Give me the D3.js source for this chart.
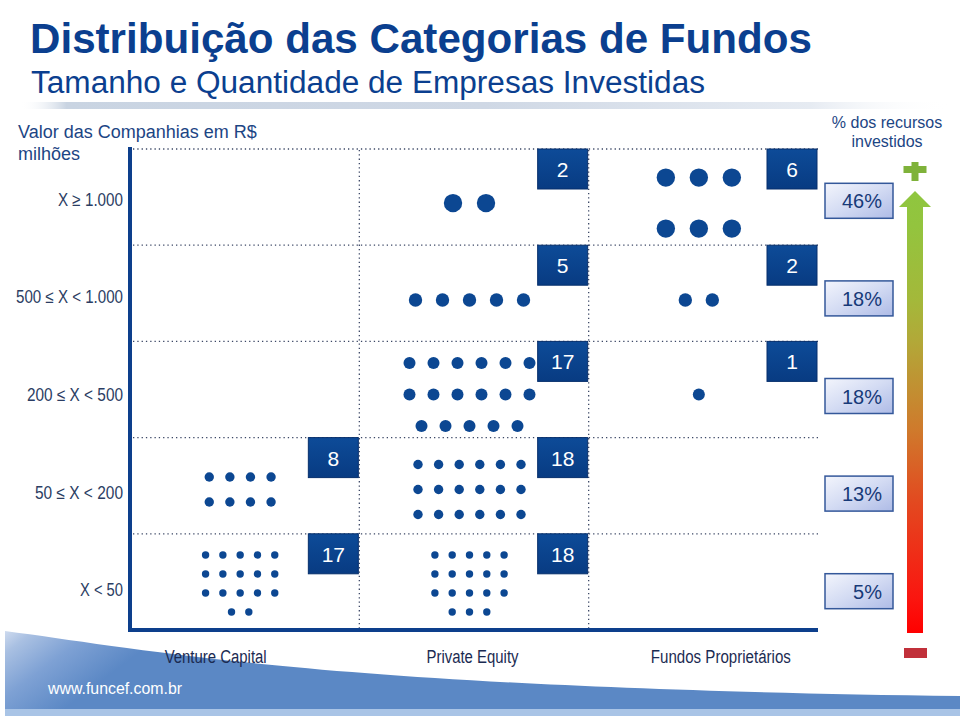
<!DOCTYPE html>
<html>
<head>
<meta charset="utf-8">
<script src="https://cdn.jsdelivr.net/npm/d3@7"></script>
<style>
  html, body { margin: 0; padding: 0; background: #fff; }
  svg { display: block; }
</style>
</head>
<body>
<script>
// ---- data ----
const categories = ["Venture Capital", "Private Equity", "Fundos Proprietários"];
const sizeBands = ["X ≥ 1.000", "500 ≤ X < 1.000", "200 ≤ X < 500", "50 ≤ X < 200", "X < 50"];
const vcCounts = [0, 0, 0, 8, 17];
const peCounts = [2, 5, 17, 18, 18];
const fpCounts = [6, 2, 1, 0, 0];
const pctInvested = [46, 18, 18, 13, 5];
const titleText = "Distribuição das Categorias de Fundos";
const subtitleText = "Tamanho e Quantidade de Empresas Investidas";
const yAxisTitle = ["Valor das Companhias em R$", "milhões"];
const pctTitle = ["% dos recursos", "investidos"];
const footerText = "www.funcef.com.br";

// ---- layout (styling, not data) ----
const dotLayout = [
  { r: 9.2, dx: 33,   dy: 51,   perRow: [3, 3, 3], yOff: 5 },
  { r: 6.7, dx: 27,   dy: 30,   perRow: [5, 5, 5], yOff: 5.7 },
  { r: 6.0, dx: 24,   dy: 31.5, perRow: [6, 6, 6], yOff: 4 },
  { r: 4.7, dx: 20.6, dy: 25,   perRow: [4, 6, 6], yOff: 2.8 },
  { r: 3.7, dx: 17.3, dy: 19,   perRow: [5, 5, 5], yOff: 0.6 }
];
// widths emulating a condensed typeface (no narrow font installed)
const rowLabelWidths = [65, 107, 96, 88, 43];
const catLabelWidths = [102, 92, 140];
const BLUE = "#0c4792";
const FRAME = "#0d3f8c";
const W = 960, H = 716;

const countsByCat = [vcCounts, peCounts, fpCounts];

const svg = d3.select("body").append("svg").attr("width", W).attr("height", H);
const defs = svg.append("defs");

// gradients
const footGrad = defs.append("linearGradient").attr("id", "footGrad")
  .attr("gradientUnits", "userSpaceOnUse").attr("x1", 0).attr("y1", 632).attr("x2", 60).attr("y2", 712);
[[0, "#d3def0"], [0.2, "#a9c0e2"], [0.55, "#7ea1d4"], [1, "#5b88c5"]]
  .forEach(([o, c]) => footGrad.append("stop").attr("offset", o).attr("stop-color", c));

const underGrad = defs.append("linearGradient").attr("id", "underGrad");
[[0, "#ffffff", 0], [0.05, "#c9d4e2", 1], [0.5, "#cfd8e5", 1], [0.85, "#e6ebf2", 1], [1, "#ffffff", 0]]
  .forEach(([o, c, a]) => underGrad.append("stop").attr("offset", o).attr("stop-color", c).attr("stop-opacity", a));

const boxGrad = defs.append("linearGradient").attr("id", "boxGrad").attr("x1", 0).attr("y1", 0).attr("x2", 0).attr("y2", 1);
[[0, "#0d4b98"], [1, "#083b82"]].forEach(([o, c]) => boxGrad.append("stop").attr("offset", o).attr("stop-color", c));

const pctGrad = defs.append("linearGradient").attr("id", "pctGrad").attr("x1", 0).attr("y1", 0).attr("x2", 1).attr("y2", 1);
[[0, "#f3f5fc"], [0.5, "#d3dbf3"], [1, "#aebbe6"]].forEach(([o, c]) => pctGrad.append("stop").attr("offset", o).attr("stop-color", c));

const arrowGrad = defs.append("linearGradient").attr("id", "arrowGrad")
  .attr("gradientUnits", "userSpaceOnUse").attr("x1", 0).attr("y1", 191).attr("x2", 0).attr("y2", 633);
[[0, "#8fc63f"], [0.08, "#93c43e"], [0.25, "#a4b83a"], [0.34, "#b2a838"], [0.54, "#cf7a2c"],
 [0.7, "#e24a20"], [0.92, "#fa1610"], [1, "#ff0000"]]
  .forEach(([o, c]) => arrowGrad.append("stop").attr("offset", o).attr("stop-color", c));

// ---- footer swoosh ----
svg.append("path")
  .attr("d", "M5,631 C 150,650 330,688 960,696 L960,716 L5,716 Z")
  .attr("fill", "url(#footGrad)");
svg.append("rect").attr("x", 5).attr("y", 709).attr("width", 955).attr("height", 7).attr("fill", "#a9c4e6");
svg.append("text").attr("x", 48).attr("y", 694).text(footerText)
  .attr("font-family", "Liberation Sans, Arial, sans-serif").attr("font-size", 16)
  .attr("fill", "#ffffff").attr("textLength", 134).attr("lengthAdjust", "spacingAndGlyphs");

// ---- titles ----
svg.append("text").attr("x", 30).attr("y", 53).text(titleText)
  .attr("font-family", "Liberation Sans, Arial, sans-serif").attr("font-weight", "bold")
  .attr("font-size", 42).attr("fill", "#0b3f8f")
  .attr("textLength", 782).attr("lengthAdjust", "spacingAndGlyphs");
svg.append("text").attr("x", 31).attr("y", 92.5).text(subtitleText)
  .attr("font-family", "Liberation Sans, Arial, sans-serif")
  .attr("font-size", 31).attr("fill", "#0b3f8f")
  .attr("textLength", 674).attr("lengthAdjust", "spacingAndGlyphs");
svg.append("rect").attr("x", 20).attr("y", 102).attr("width", 930).attr("height", 7).attr("fill", "url(#underGrad)");

// ---- scales ----
const x = d3.scaleBand().domain(categories).range([130, 818]);
const y = d3.scaleBand().domain(sizeBands).range([150, 631]);
const yLab = d3.scaleBand().domain(sizeBands).range([152, 640]);

const sans = "'Liberation Sans', Arial, sans-serif";

// y axis title
svg.selectAll("text.ytitle").data(yAxisTitle).join("text").attr("class", "ytitle")
  .attr("x", 18).attr("y", (d, i) => 138 + i * 22).text(d => d)
  .attr("font-family", sans).attr("font-size", 18).attr("fill", "#1c4584");

// row labels
svg.selectAll("text.rowlab").data(sizeBands).join("text").attr("class", "rowlab")
  .attr("x", 123).attr("y", d => yLab(d) + yLab.bandwidth() / 2 + 5)
  .attr("text-anchor", "end").text(d => d)
  .attr("textLength", (d, i) => rowLabelWidths[i]).attr("lengthAdjust", "spacingAndGlyphs")
  .attr("font-family", sans).attr("font-size", 18).attr("fill", "#2b3d63");

// ---- grid (dotted) ----
const grid = svg.append("g").attr("stroke", "#3c4866").attr("stroke-width", 1.3)
  .attr("stroke-dasharray", "1.3,3").attr("fill", "none");
sizeBands.forEach(b => {
  grid.append("line").attr("x1", 133).attr("x2", 818).attr("y1", y(b) - 1).attr("y2", y(b) - 1);
});
categories.slice(1).forEach(c => {
  grid.append("line").attr("x1", x(c)).attr("x2", x(c)).attr("y1", y.range()[0]).attr("y2", 629);
});

// ---- frame ----
svg.append("line").attr("x1", 130).attr("x2", 130).attr("y1", 147).attr("y2", 632)
  .attr("stroke", FRAME).attr("stroke-width", 4);
svg.append("line").attr("x1", 128).attr("x2", 818).attr("y1", 630).attr("y2", 630)
  .attr("stroke", FRAME).attr("stroke-width", 4);

// ---- dots and count boxes ----
const cells = [];
sizeBands.forEach((b, i) => categories.forEach((c, j) => {
  cells.push({ band: b, bi: i, cat: c, cj: j, n: countsByCat[j][i] });
}));

const dots = [];
cells.forEach(cell => {
  const L = dotLayout[cell.bi];
  const per = L.perRow[cell.cj];
  const n = cell.n;
  if (!n) return;
  const nrows = Math.ceil(n / per);
  const cx0 = x(cell.cat) + x.bandwidth() / 2 - 4.5;
  const cy0 = y(cell.band) + y.bandwidth() / 2 + L.yOff;
  for (let k = 0; k < n; k++) {
    const row = Math.floor(k / per), col = k % per;
    const inRow = Math.min(per, n - row * per);
    dots.push({
      cx: cx0 + (col - (inRow - 1) / 2) * L.dx,
      cy: cy0 + (row - (nrows - 1) / 2) * L.dy,
      r: L.r
    });
  }
});
svg.append("g").selectAll("circle").data(dots).join("circle")
  .attr("cx", d => d.cx).attr("cy", d => d.cy).attr("r", d => d.r).attr("fill", BLUE);

const boxG = svg.append("g").selectAll("g").data(cells.filter(c => c.n > 0)).join("g")
  .attr("transform", d => `translate(${x(d.cat) + x.bandwidth() - 51},${y(d.band) - 1})`);
boxG.append("rect").attr("width", 50).attr("height", 40)
  .attr("fill", "url(#boxGrad)").attr("stroke", "#062f6c").attr("stroke-width", 1);
boxG.append("text").attr("x", 25).attr("y", 28).attr("text-anchor", "middle")
  .text(d => d.n).attr("font-family", sans)
  .attr("font-size", 21).attr("fill", "#ffffff");

// ---- category labels ----
const catLabelShift = [-29, -1.5, 17.5];
svg.selectAll("text.catlab").data(categories).join("text").attr("class", "catlab")
  .attr("x", (d, i) => x(d) + x.bandwidth() / 2 + catLabelShift[i]).attr("y", 663)
  .attr("text-anchor", "middle").text(d => d)
  .attr("textLength", (d, i) => catLabelWidths[i]).attr("lengthAdjust", "spacingAndGlyphs")
  .attr("font-family", sans).attr("font-size", 18).attr("fill", "#1b2b52");

// ---- right side: % invested ----
svg.selectAll("text.pctTitle").data(pctTitle).join("text").attr("class", "pctTitle")
  .attr("x", 887).attr("y", (d, i) => 128 + i * 19).attr("text-anchor", "middle").text(d => d)
  .attr("font-family", sans).attr("font-size", 16).attr("fill", "#1c4584");

const pctG = svg.append("g").selectAll("g").data(pctInvested).join("g")
  .attr("transform", (d, i) => `translate(825,${yLab(sizeBands[i]) + yLab.bandwidth() / 2 - 17.5})`);
pctG.append("rect").attr("width", 68).attr("height", 35)
  .attr("fill", "url(#pctGrad)").attr("stroke", "#34589a").attr("stroke-width", 1.5);
pctG.append("text").attr("x", 57).attr("y", 25).attr("text-anchor", "end")
  .text(d => d + "%").attr("font-family", sans)
  .attr("font-size", 20).attr("fill", "#173a78");

// arrow
svg.append("path")
  .attr("d", "M915,191 L931,207 L923,207 L923,633 L907,633 L907,207 L899,207 Z")
  .attr("fill", "url(#arrowGrad)");
// plus
svg.append("rect").attr("x", 911.5).attr("y", 162).attr("width", 7).attr("height", 19).attr("fill", "#7fb23a");
svg.append("rect").attr("x", 903.5).attr("y", 166).attr("width", 23).attr("height", 7).attr("fill", "#7fb23a");
// minus
svg.append("rect").attr("x", 904).attr("y", 648).attr("width", 23).attr("height", 10).attr("fill", "#c1303a");
</script>
</body>
</html>
